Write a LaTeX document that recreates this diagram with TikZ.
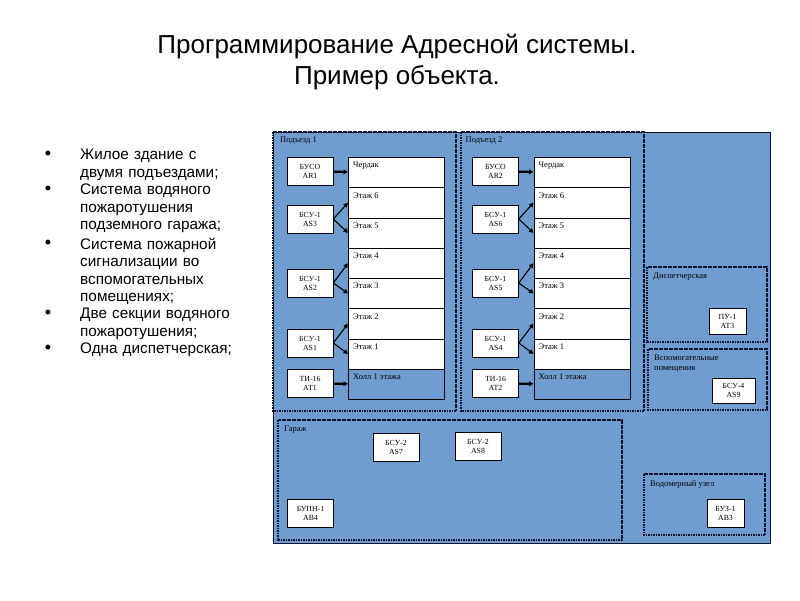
\documentclass[tikz,border=0pt]{standalone}
\usepackage{fontspec}
\setmainfont{Liberation Sans}
\newfontfamily\tms{Liberation Serif}
\usetikzlibrary{arrows.meta}
\definecolor{plan}{RGB}{112,157,207}
\definecolor{edge}{RGB}{15,20,45}
\tikzset{
  zone/.style={draw=edge,line width=1.3pt,dash pattern=on 1.6pt off 0.9pt},
  floor/.style={draw=black,fill=white,line width=0.6pt,minimum width=96,minimum height=30.25,anchor=north west,inner sep=0},
  dev/.style={draw=black,fill=white,line width=0.6pt,minimum width=46,minimum height=28,inner sep=0,align=center,font=\tms\fontsize{7.8}{9}\selectfont},
  lbl/.style={font=\tms\fontsize{8.5}{10}\selectfont,inner sep=0,anchor=north west,align=left},
  feed/.style={-{Triangle[length=4.5pt,width=4.5pt]},line width=1.1pt},
  item/.style={font=\fontsize{15.3}{17.3}\selectfont,inner sep=0,anchor=north west,align=left,text width=158}
}
\begin{document}
\begin{tikzpicture}[x=1pt,y=-1pt]
  \useasboundingbox[fill=white] (0,0) rectangle (800,600);
  % title
  \node[font=\fontsize{26}{31}\selectfont,align=center,anchor=north] (title) at (397,31)
    {Программирование Адресной системы.\\Пример объекта.};
  % list
  \foreach \y/\t [count=\k] in {149/{Жилое здание с двумя подъездами;},
      184/{Система водяного пожаротушения подземного гаража;},
      238/{Система пожарной сигнализации во вспомогательных помещениях;},
      308/{Две секции водяного пожаротушения;},
      343/{Одна диспетчерская;}}{
    \node[item] (it\k) at (80,\y) {\t};
    \node[font=\fontsize{18}{18}\selectfont,inner sep=0] (bul\k) at (48,\y+6) {•};
  }
  % plan
  \draw[fill=plan,draw=edge,line width=0.8pt] (273,132) rectangle (770,543);
  \draw[zone] (273,132) rectangle (456,411);
  \draw[zone] (461,132) rectangle (644,411);
  \draw[zone] (647,267) rectangle (767,342);
  \draw[zone] (648,349) rectangle (767,410);
  \draw[zone] (278,420) rectangle (622,540);
  \draw[zone] (644,474) rectangle (765,535);
  \foreach \p/\dx/\a/\b/\c in {1/0/3/2/1,2/185.5/6/5/4}{
    \node[lbl] (ent\p) at (280+\dx,137) {Подъезд \p};
    \foreach \t [count=\i from 0] in {Чердак,Этаж 6,Этаж 5,Этаж 4,Этаж 3,Этаж 2,Этаж 1}{
      \node[floor] (f\p-\i) at (348+\dx,157+30.25*\i) {};
      \node[lbl] (t\p-\i) at ([xshift=5,yshift=-5]f\p-\i.north west) {\t};
    }
    \node[floor,fill=plan] (f\p-7) at (348+\dx,157+30.25*7) {};
    \node[lbl] (t\p-7) at ([xshift=5,yshift=-5]f\p-7.north west) {Холл 1 этажа};
    \node[dev] (ar\p) at (310+\dx,171.5) {БУСО\\AR\p};
    \node[dev] (as\a) at (310+\dx,219) {БСУ-1\\AS\a};
    \node[dev] (as\b) at (310+\dx,283) {БСУ-1\\AS\b};
    \node[dev] (as\c) at (310+\dx,343) {БСУ-1\\AS\c};
    \node[dev] (at\p) at (310+\dx,383.5) {ТИ-16\\АТ\p};
    \draw[feed,line width=2.2pt] (ar\p) -- (f\p-0);
    \draw[feed] (as\a.east) -- (f\p-1.west);
    \draw[feed] (as\a.east) -- (f\p-2.west);
    \draw[feed] (as\b.east) -- (f\p-3.west);
    \draw[feed] (as\b.east) -- (f\p-4.west);
    \draw[feed] (as\c.east) -- (f\p-5.west);
    \draw[feed] (as\c.east) -- (f\p-6.west);
    \draw[feed,line width=2.2pt] (at\p) -- (f\p-7);
  }
  \node[lbl] (disp) at (653,273) {Диспетчерская};
  \node[dev,minimum width=37,minimum height=26] (at3) at (727.5,321) {ПУ-1\\АТ3};
  \node[lbl] (aux) at (654,355) {Вспомогательные\\помещения};
  \node[dev,minimum width=43,minimum height=25] (as9) at (733.5,390.5) {БСУ-4\\AS9};
  \node[lbl] (gar) at (284,426) {Гараж};
  \node[dev] (as7) at (396,447.5) {БСУ-2\\AS7};
  \node[dev] (as8) at (478,446.5) {БСУ-2\\AS8};
  \node[dev] (ab4) at (310.5,513.5) {БУПН-1\\AB4};
  \node[lbl] (meter) at (650,480) {Водомерный узел};
  \node[dev,minimum width=37,minimum height=28] (ab3) at (725.5,513) {БУЗ-1\\AB3};
\end{tikzpicture}
\end{document}
